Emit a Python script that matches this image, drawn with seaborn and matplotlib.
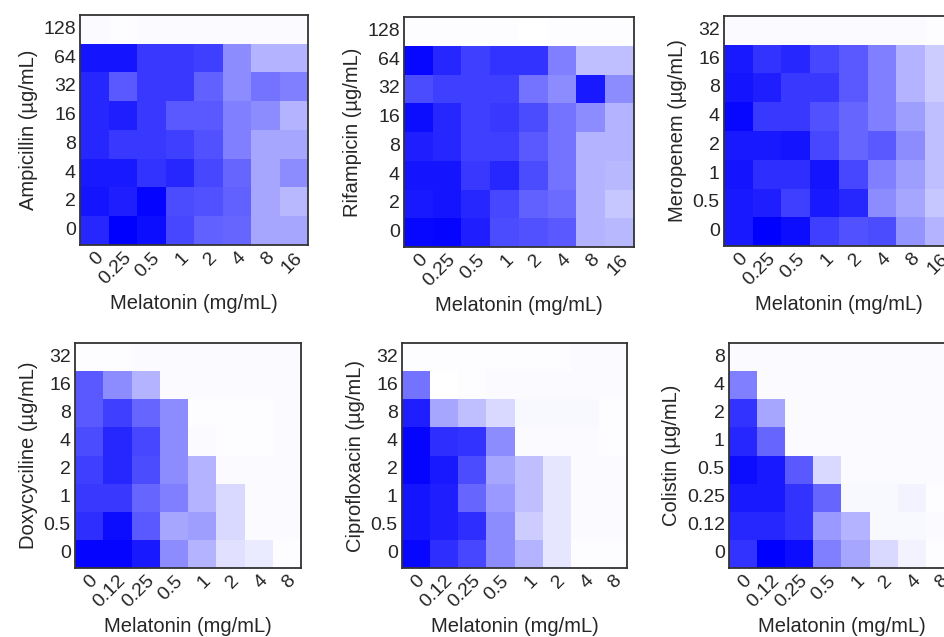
import numpy as np
import pandas as pd
import matplotlib
matplotlib.use("Agg")
import matplotlib.pyplot as plt
import seaborn as sns
from matplotlib.colors import LinearSegmentedColormap

# melatonin doses (x axis)
mel_top = ["0", "0.25", "0.5", "1", "2", "4", "8", "16"]
mel_bottom = ["0", "0.12", "0.25", "0.5", "1", "2", "4", "8"]

# antibiotic doses (y axis, top row first)
amp_doses = ["128", "64", "32", "16", "8", "4", "2", "0"]
rif_doses = ["128", "64", "32", "16", "8", "4", "2", "0"]
mer_doses = ["32", "16", "8", "4", "2", "1", "0.5", "0"]
dox_doses = ["32", "16", "8", "4", "2", "1", "0.5", "0"]
cip_doses = ["32", "16", "8", "4", "2", "1", "0.5", "0"]
col_doses = ["8", "4", "2", "1", "0.5", "0.25", "0.12", "0"]

# relative growth (0 = white, 1 = full blue)
amp_growth = [
    [0.02, 0.01, 0.02, 0.02, 0.02, 0.02, 0.02, 0.02],
    [0.92, 0.92, 0.78, 0.78, 0.75, 0.45, 0.30, 0.30],
    [0.85, 0.65, 0.78, 0.78, 0.62, 0.45, 0.55, 0.50],
    [0.85, 0.88, 0.78, 0.65, 0.65, 0.50, 0.45, 0.30],
    [0.85, 0.78, 0.78, 0.75, 0.68, 0.50, 0.35, 0.35],
    [0.90, 0.90, 0.80, 0.85, 0.72, 0.60, 0.35, 0.45],
    [0.92, 0.88, 0.98, 0.70, 0.68, 0.62, 0.35, 0.28],
    [0.85, 1.00, 0.95, 0.72, 0.62, 0.60, 0.35, 0.35],
]
rif_growth = [
    [0.01, 0.01, 0.01, 0.01, 0.00, 0.01, 0.01, 0.01],
    [0.97, 0.85, 0.75, 0.80, 0.80, 0.50, 0.25, 0.25],
    [0.70, 0.75, 0.75, 0.75, 0.55, 0.45, 0.90, 0.45],
    [0.95, 0.85, 0.75, 0.78, 0.70, 0.55, 0.45, 0.30],
    [0.88, 0.85, 0.75, 0.75, 0.65, 0.55, 0.30, 0.30],
    [0.92, 0.92, 0.78, 0.85, 0.70, 0.55, 0.30, 0.28],
    [0.90, 0.92, 0.85, 0.72, 0.62, 0.58, 0.30, 0.22],
    [0.97, 0.98, 0.88, 0.70, 0.68, 0.65, 0.30, 0.28],
]
mer_growth = [
    [0.02, 0.02, 0.02, 0.02, 0.02, 0.02, 0.02, 0.01],
    [0.90, 0.80, 0.85, 0.72, 0.65, 0.50, 0.30, 0.20],
    [0.92, 0.88, 0.78, 0.78, 0.65, 0.50, 0.30, 0.20],
    [0.97, 0.78, 0.78, 0.68, 0.60, 0.50, 0.38, 0.25],
    [0.90, 0.90, 0.92, 0.72, 0.60, 0.65, 0.45, 0.25],
    [0.92, 0.82, 0.82, 0.92, 0.72, 0.50, 0.38, 0.25],
    [0.90, 0.88, 0.75, 0.90, 0.85, 0.45, 0.35, 0.22],
    [0.90, 1.00, 0.95, 0.75, 0.68, 0.70, 0.42, 0.30],
]
dox_growth = [
    [0.01, 0.01, 0.02, 0.02, 0.02, 0.02, 0.02, 0.02],
    [0.65, 0.45, 0.30, 0.02, 0.02, 0.02, 0.02, 0.02],
    [0.65, 0.75, 0.60, 0.45, 0.01, 0.01, 0.01, 0.02],
    [0.70, 0.85, 0.72, 0.45, 0.02, 0.01, 0.01, 0.02],
    [0.75, 0.85, 0.70, 0.45, 0.30, 0.02, 0.02, 0.02],
    [0.78, 0.78, 0.60, 0.50, 0.30, 0.15, 0.02, 0.02],
    [0.82, 0.95, 0.65, 0.35, 0.38, 0.15, 0.02, 0.02],
    [0.98, 0.98, 0.90, 0.45, 0.30, 0.12, 0.08, 0.01],
]
cip_growth = [
    [0.01, 0.01, 0.01, 0.01, 0.01, 0.01, 0.02, 0.02],
    [0.55, 0.00, 0.01, 0.02, 0.02, 0.02, 0.02, 0.02],
    [0.88, 0.35, 0.25, 0.15, 0.03, 0.03, 0.03, 0.01],
    [0.98, 0.82, 0.80, 0.45, 0.02, 0.02, 0.02, 0.01],
    [0.98, 0.90, 0.70, 0.35, 0.25, 0.10, 0.02, 0.02],
    [0.92, 0.88, 0.60, 0.40, 0.25, 0.10, 0.02, 0.02],
    [0.92, 0.88, 0.82, 0.45, 0.20, 0.10, 0.02, 0.02],
    [0.97, 0.82, 0.72, 0.45, 0.30, 0.10, 0.01, 0.01],
]
col_growth = [
    [0.02, 0.02, 0.02, 0.02, 0.02, 0.02, 0.02, 0.02],
    [0.50, 0.02, 0.02, 0.02, 0.02, 0.02, 0.02, 0.02],
    [0.80, 0.35, 0.02, 0.02, 0.02, 0.02, 0.02, 0.02],
    [0.85, 0.60, 0.02, 0.02, 0.02, 0.02, 0.02, 0.02],
    [0.95, 0.90, 0.65, 0.15, 0.02, 0.02, 0.02, 0.02],
    [0.90, 0.90, 0.80, 0.60, 0.03, 0.03, 0.05, 0.01],
    [0.85, 0.85, 0.80, 0.40, 0.30, 0.03, 0.03, 0.02],
    [0.80, 1.00, 0.95, 0.50, 0.35, 0.15, 0.05, 0.01],
]

panels = [
    ("Ampicillin (µg/mL)", amp_doses, mel_top, amp_growth, [0.0847, 0.6154, 0.2413, 0.3611]),
    ("Rifampicin (µg/mL)", rif_doses, mel_top, rif_growth, [0.4275, 0.6122, 0.2434, 0.3611]),
    ("Meropenem (µg/mL)", mer_doses, mel_top, mer_growth, [0.7661, 0.6138, 0.2434, 0.3611]),
    ("Doxycyciline (µg/mL)", dox_doses, mel_bottom, dox_growth, [0.0794, 0.1083, 0.2392, 0.3532]),
    ("Ciprofloxacin (µg/mL)", cip_doses, mel_bottom, cip_growth, [0.4254, 0.1083, 0.2381, 0.3532]),
    ("Colistin (µg/mL)", col_doses, mel_bottom, col_growth, [0.7714, 0.1083, 0.2381, 0.3532]),
]

sns.set_style("white")
plt.rcParams["font.family"] = ["Liberation Sans", "DejaVu Sans"]

cmap = LinearSegmentedColormap.from_list("wb", ["#ffffff", "#0000ff"])

fig = plt.figure(figsize=(9.45, 6.37), dpi=100)
tick_fs = 14
label_fs = 14.5

for ylabel, ydoses, xdoses, growth, pos in panels:
    ax = fig.add_axes(pos)
    df = pd.DataFrame(growth, index=ydoses, columns=xdoses)
    sns.heatmap(df, ax=ax, cmap=cmap, vmin=0, vmax=1, cbar=False)
    for sp in ax.spines.values():
        sp.set_visible(True)
        sp.set_color("#333333")
        sp.set_linewidth(1.3)
    ax.tick_params(length=0, pad=3)
    ax.set_yticklabels(ydoses, rotation=0, fontsize=tick_fs)
    ax.set_xticklabels(xdoses, rotation=45, ha="right", rotation_mode="anchor", fontsize=tick_fs)
    ax.set_ylabel(ylabel, fontsize=label_fs, labelpad=4)
    ax.set_xlabel("Melatonin (mg/mL)", fontsize=label_fs, labelpad=4)

fig.savefig("out.png", dpi=100)
